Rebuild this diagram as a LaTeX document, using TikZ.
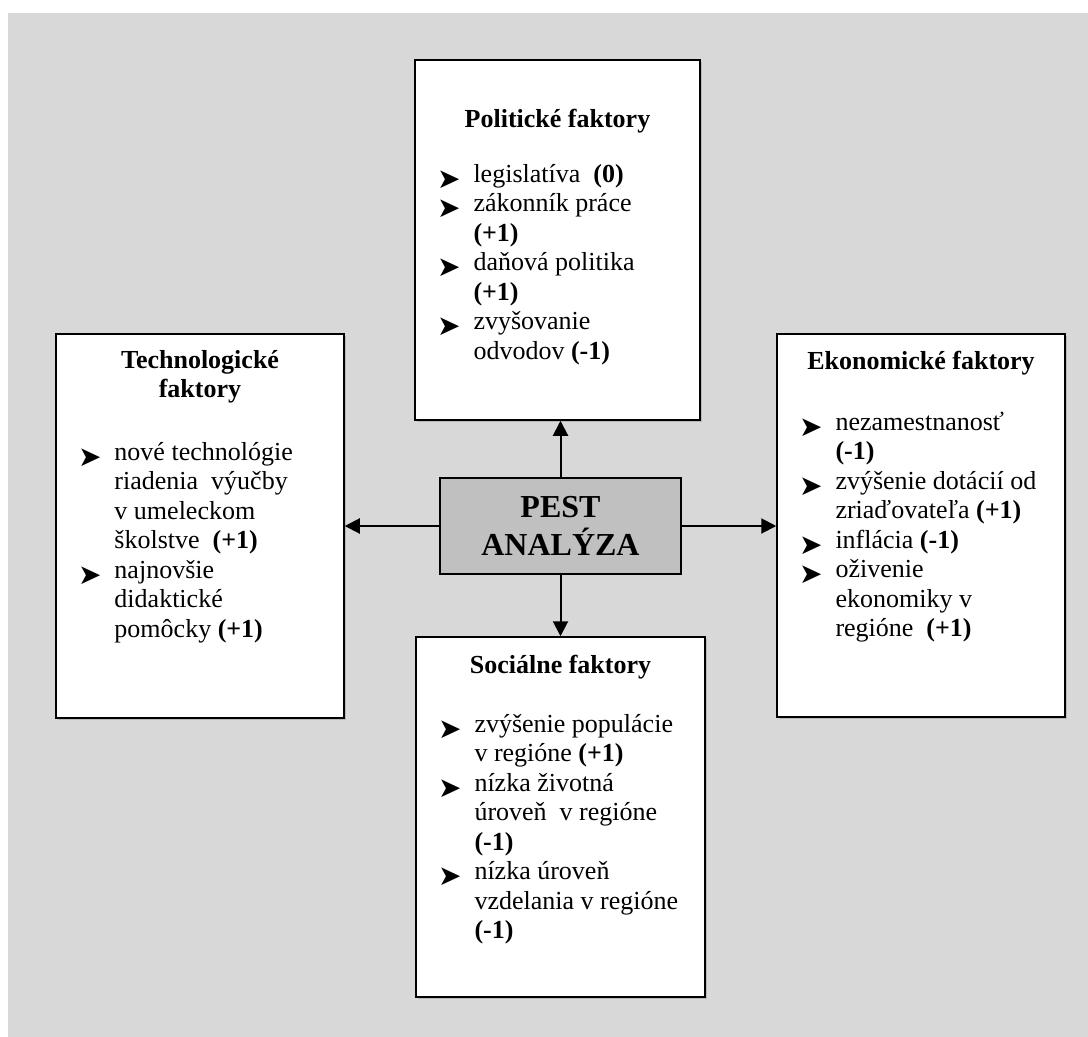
\documentclass[tikz,border=0pt]{standalone}
\usepackage{fontspec}
\setmainfont{Liberation Serif}
\newfontfamily\dingfont{DejaVu Sans}
\usetikzlibrary{arrows.meta,shadows}
\definecolor{bggrey}{RGB}{216,216,216}
\definecolor{pestgrey}{RGB}{192,192,192}
\newcommand{\arrbullet}{\raisebox{-6pt}{\dingfont\fontsize{28}{28}\selectfont ➤}}
\newcommand{\pitem}[1]{\par\noindent\llap{\makebox[36.5pt][l]{\arrbullet}}#1}
% width, height, space above title, title, space below title, items
\newcommand{\factors}[6]{\parbox[c][#2][t]{#1}{\vspace*{#3}%
  {\centering\bfseries\rule{0pt}{20pt}#4\par}\vspace{#5}%
  \raggedright\leftskip=58.5pt #6\par}}
\begin{document}
\begin{tikzpicture}[x=1pt,y=-1pt,
    factor/.style={draw,line width=1.5pt,fill=white,inner sep=0pt,
      font=\fontsize{26}{29.5}\selectfont,
      drop shadow={shadow xshift=1.5pt,shadow yshift=-1.5pt,fill=gray!80}},
    pestbox/.style={draw,line width=1.5pt,fill=pestgrey,align=center,
      minimum width=241pt,minimum height=96pt,
      font=\fontsize{32}{37.7}\selectfont\bfseries}]
  \useasboundingbox (0,0) rectangle (1088,1037);
  \fill[white] (0,0) rectangle (1088,1037);
  \fill[bggrey] (8,13) rectangle (1088,1037);
  \node[factor] (polit) at (557.5,240) {\factors{285pt}{360pt}{47pt}{Politické faktory}{25.5pt}{%
    \pitem{legislatíva~ \textbf{(0)}}
    \pitem{zákonník práce\\\textbf{(+1)}}
    \pitem{daňová politika\\\textbf{(+1)}}
    \pitem{zvyšovanie\\odvodov \textbf{(-1)}}}};
  \node[factor] (techno) at (200,526) {\factors{288pt}{384pt}{14pt}{Technologické\\faktory}{33pt}{%
    \pitem{nové technológie\\riadenia~ výučby\\v umeleckom\\školstve~ \textbf{(+1)}}
    \pitem{najnovšie\\didaktické\\pomôcky \textbf{(+1)}}}};
  \node[factor] (ekon) at (921,525.5) {\factors{288pt}{383pt}{15pt}{Ekonomické faktory}{31.5pt}{%
    \pitem{nezamestnanosť\\\textbf{(-1)}}
    \pitem{zvýšenie dotácií od\\zriaďovateľa \textbf{(+1)}}
    \pitem{inflácia \textbf{(-1)}}
    \pitem{oživenie\\ekonomiky v\\regióne~ \textbf{(+1)}}}};
  \node[factor] (social) at (560.5,817) {\factors{289pt}{360pt}{16pt}{Sociálne faktory}{29.5pt}{%
    \pitem{zvýšenie populácie\\v regióne \textbf{(+1)}}
    \pitem{nízka životná\\úroveň~ v regióne\\\textbf{(-1)}}
    \pitem{nízka úroveň\\vzdelania v regióne\\\textbf{(-1)}}}};
  \node[pestbox] (pest) at (560.5,526) {PEST\\ANALÝZA};
  \begin{scope}[line width=2pt,-{Triangle[length=15pt,width=15pt]}]
    \draw (pest.north) -- (pest.north |- polit.south);
    \draw (pest.south) -- (pest.south |- social.north);
    \draw (pest.west) -- (pest.west -| techno.east);
    \draw (pest.east) -- (pest.east -| ekon.west);
  \end{scope}
\end{tikzpicture}
\end{document}
